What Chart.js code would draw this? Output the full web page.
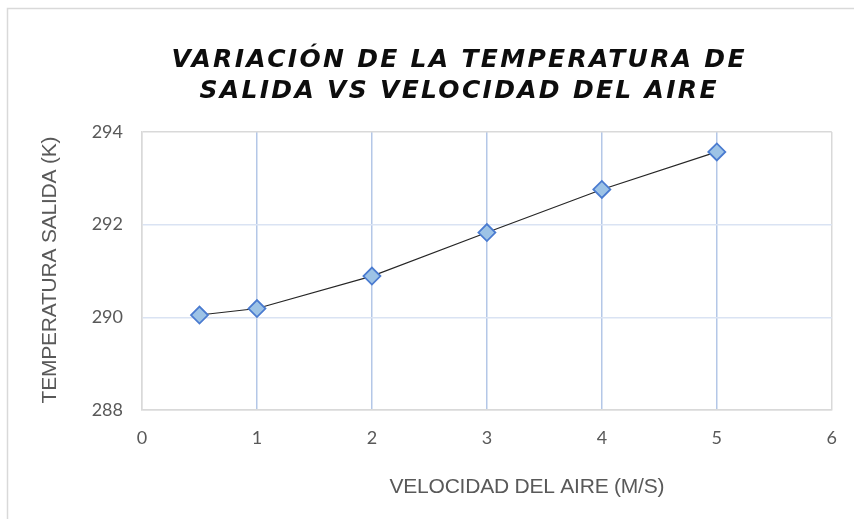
<!DOCTYPE html>
<html>
<head>
<meta charset="utf-8">
<script src="https://cdn.jsdelivr.net/npm/chart.js@4/dist/chart.umd.min.js"></script>
<style>
  html, body { margin: 0; padding: 0; background: #ffffff; }
  #wrap { position: relative; width: 854px; height: 519px; }
</style>
</head>
<body>
<div id="wrap"><canvas id="c" width="854" height="519"></canvas></div>
<script>
// Air velocity (m/s) and outlet temperature (K)
const velocidad = [0.5, 1, 2, 3, 4, 5];
const temperatura = [290.05, 290.19, 290.89, 291.83, 292.76, 293.57];

const tituloLineas = ['VARIACIÓN DE LA TEMPERATURA DE', 'SALIDA VS VELOCIDAD DEL AIRE'];
const tituloEjeX = 'VELOCIDAD DEL AIRE (M/S)';
const tituloEjeY = 'TEMPERATURA SALIDA (K)';

const xMin = 0, xMax = 6, xStep = 1;
const yMin = 288, yMax = 294, yStep = 2;

const tickFont = { family: 'Lato, "Liberation Sans", sans-serif', size: 18 };
const tickColor = '#595959';
const borderGray = '#d9d9d9';

// Chart frame, title and axis titles drawn around the plot
const decorations = {
  id: 'decorations',
  beforeDraw(chart) {
    const ctx = chart.ctx;
    ctx.save();
    ctx.fillStyle = '#ffffff';
    ctx.fillRect(0, 0, chart.width, chart.height);
    ctx.strokeStyle = borderGray;
    ctx.lineWidth = 1.5;
    ctx.beginPath();
    ctx.moveTo(7.5, chart.height);
    ctx.lineTo(7.5, 8.5);
    ctx.lineTo(chart.width, 8.5);
    ctx.stroke();
    ctx.restore();
  },
  afterDraw(chart) {
    const ctx = chart.ctx;
    ctx.save();
    // Title, spaced out to span its line width
    ctx.fillStyle = '#0d0d0d';
    ctx.font = 'italic bold 25px "DejaVu Sans", sans-serif';
    ctx.textAlign = 'center';
    ctx.textBaseline = 'alphabetic';
    ctx.letterSpacing = '0px';
    const base = ctx.measureText(tituloLineas[0]).width;
    const sp = (573 - base) / (tituloLineas[0].length - 1);
    ctx.letterSpacing = sp.toFixed(2) + 'px';
    ctx.fillText(tituloLineas[0], 458 + sp / 2, 67);
    ctx.fillText(tituloLineas[1], 458 + sp / 2, 98);

    // Axis titles, sized to the same span
    ctx.fillStyle = tickColor;
    ctx.font = '21px "Liberation Sans", sans-serif';
    ctx.letterSpacing = '0px';
    const wx = ctx.measureText(tituloEjeX).width;
    const spx = (275 - wx) / (tituloEjeX.length - 1);
    ctx.letterSpacing = spx.toFixed(2) + 'px';
    ctx.textBaseline = 'middle';
    ctx.fillText(tituloEjeX, 527 + spx / 2, 487);
    ctx.translate(50, 270);
    ctx.rotate(-Math.PI / 2);
    ctx.fillText(tituloEjeY, spx / 2, 0);
    ctx.restore();
  }
};

new Chart(document.getElementById('c'), {
  type: 'scatter',
  data: {
    datasets: [{
      data: velocidad.map((v, i) => ({ x: v, y: temperatura[i] })),
      showLine: true,
      borderColor: '#262626',
      borderWidth: 1.2,
      pointStyle: 'rectRot',
      pointRadius: 8.5,
      pointHoverRadius: 8.5,
      pointBackgroundColor: '#9dc3e6',
      pointBorderColor: '#4a7bd0',
      pointBorderWidth: 1.8
    }]
  },
  options: {
    responsive: false,
    animation: false,
    events: [],
    layout: { padding: { left: 0, top: 132, right: 18, bottom: 0 } },
    plugins: { legend: { display: false }, title: { display: false }, tooltip: { enabled: false } },
    scales: {
      x: {
        type: 'linear',
        min: xMin, max: xMax,
        afterFit(scale) { scale.height = 109; },
        ticks: { stepSize: xStep, font: tickFont, color: tickColor, padding: 17 },
        grid: {
          drawTicks: false,
          lineWidth: 1.5,
          color: (c) => (c.tick && (c.tick.value === xMin || c.tick.value === xMax)) ? borderGray : '#b4c7e7'
        },
        border: { color: borderGray, width: 1.5 }
      },
      y: {
        type: 'linear',
        min: yMin, max: yMax,
        afterFit(scale) { scale.width = 142; },
        ticks: { stepSize: yStep, font: tickFont, color: tickColor, padding: 19 },
        grid: {
          drawTicks: false,
          lineWidth: 1.5,
          color: (c) => (c.tick && (c.tick.value === yMin || c.tick.value === yMax)) ? borderGray : '#dae3f3'
        },
        border: { color: borderGray, width: 1.5 }
      }
    }
  },
  plugins: [decorations]
});
</script>
</body>
</html>
